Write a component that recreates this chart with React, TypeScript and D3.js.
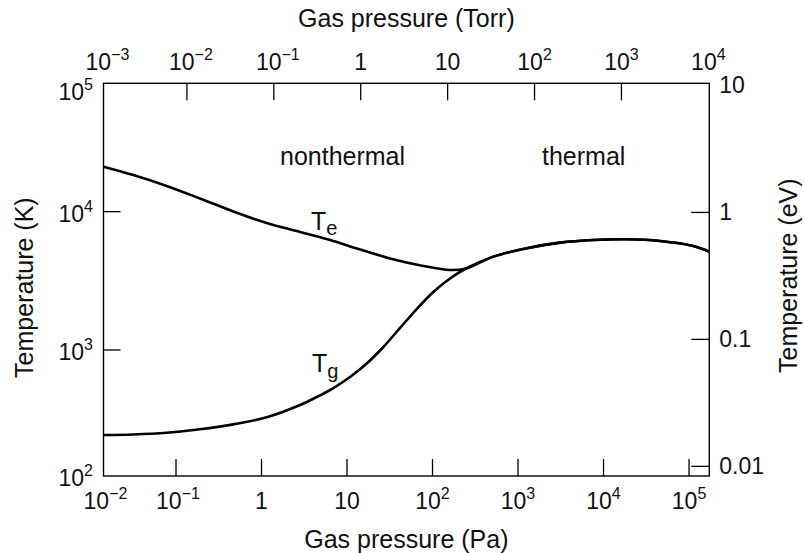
import React from "react";
import * as d3 from "d3";

// Te (electron temperature) in the nonthermal region, Pa / K
const tePressure = [0.0142, 0.0317, 0.0778, 0.191, 0.468, 1.15, 2.82, 6.92, 13.0, 31.8, 78.0, 160];
const teTemp = [21150, 18400, 15350, 12450, 10030, 8280, 7130, 6140, 5420, 4590, 4050, 3785];

// Tg (gas temperature) in the nonthermal region, Pa / K
const tgPressure = [0.0142, 0.0317, 0.0778, 0.191, 0.468, 1.15, 2.82, 4.42, 6.92, 10.84, 17.0, 26.6, 41.7, 65.3, 102.2, 160.2];
const tgTemp = [243, 245, 252, 267, 290, 326, 400, 457, 531, 638, 798, 1051, 1443, 1978, 2625, 3288];

// thermal region, Te = Tg
const thPressure = [246.5, 514, 1265, 3100, 7600, 18670, 45800, 112000, 172600];
const thTemp = [3883, 4730, 5440, 5970, 6240, 6310, 6140, 5650, 5140];

const paExponents = [-2, -1, 0, 1, 2, 3, 4, 5];
const torrExponents = [-3, -2, -1, 0, 1, 2, 3, 4];
const kExponents = [2, 3, 4, 5];
const evTicks = [10, 1, 0.1, 0.01];
const evLabels = ["10", "1", "0.1", "0.01"];

const W = 804;
const H = 553;
const margin = { top: 83.3, right: 94.7, bottom: 77, left: 103.5 };
const FONT = "'Liberation Sans', Arial, Helvetica, sans-serif";
const TICK = 17;

function Pow({ x, y, e, anchor }: { x: number; y: number; e: number; anchor: string }) {
  if (e === 0) return <text x={x} y={y} textAnchor={anchor} fontSize={23}>1</text>;
  if (e === 1) return <text x={x} y={y} textAnchor={anchor} fontSize={23}>10</text>;
  const sup = e < 0 ? "\u2212" + Math.abs(e) : String(e);
  return (
    <text x={x} y={y} textAnchor={anchor} fontSize={23}>
      10<tspan dy={-10} fontSize={16}>{sup}</tspan>
    </text>
  );
}

export default function App() {
  const L = margin.left;
  const R = W - margin.right;
  const T = margin.top;
  const B = H - margin.bottom;

  const xPa = d3.scaleLog().domain([10 ** -1.848, 10 ** 5.237]).range([L, R]).clamp(true);
  const xTorr = d3.scaleLog().domain([10 ** -2.96, 10 ** 4.011]).range([L, R]).clamp(true);
  const yK = d3.scaleLog().domain([10 ** 2.089, 10 ** 4.928]).range([B, T]).clamp(true);
  const yEV = d3.scaleLog().domain([10 ** -2.076, 10 ** 1.017]).range([B, T]).clamp(true);

  const line = d3
    .line<[number, number]>()
    .x((d) => xPa(d[0]))
    .y((d) => yK(d[1]))
    .curve(d3.curveCatmullRom.alpha(0.5));

  const th: [number, number][] = thPressure.map((p, i) => [p, thTemp[i]]);
  const te: [number, number][] = tePressure.map((p, i) => [p, teTemp[i]] as [number, number]).concat(th);
  const tg: [number, number][] = tgPressure.map((p, i) => [p, tgTemp[i]] as [number, number]).concat(th);

  const inner = (v: number, a: number, b: number) => v > a + 3 && v < b - 3;

  return (
    <svg width={W} height={H} style={{ position: "absolute", left: 0, top: 0, background: "#fff" }} fontFamily={FONT} fill="#111">
      {/* curves */}
      <path d={line(te) ?? ""} fill="none" stroke="#000" strokeWidth={2.6} />
      <path d={line(tg) ?? ""} fill="none" stroke="#000" strokeWidth={2.6} />

      {/* frame */}
      <rect x={L} y={T} width={R - L} height={B - T} fill="none" stroke="#000" strokeWidth={1.4} />

      {/* bottom axis, Pa */}
      {paExponents.map((e) => {
        const x = xPa(10 ** e);
        return (
          <g key={"pa" + e}>
            {inner(x, L, R) && <line x1={x} x2={x} y1={B} y2={B - TICK} stroke="#000" strokeWidth={1.3} />}
            <Pow x={x + (e < 0 ? 2 : 0)} y={B + 33} e={e} anchor="middle" />
          </g>
        );
      })}

      {/* top axis, Torr */}
      {torrExponents.map((e) => {
        const x = xTorr(10 ** e);
        return (
          <g key={"torr" + e}>
            {inner(x, L, R) && <line x1={x} x2={x} y1={T} y2={T + TICK} stroke="#000" strokeWidth={1.3} />}
            <Pow x={x + (e < 0 ? 4 : 0)} y={T - 13} e={e} anchor="middle" />
          </g>
        );
      })}

      {/* left axis, K */}
      {kExponents.map((e) => {
        const y = yK(10 ** e);
        return (
          <g key={"k" + e}>
            {inner(y, T, B) && <line x1={L} x2={L + TICK} y1={y} y2={y} stroke="#000" strokeWidth={1.3} />}
            <Pow x={93} y={y + (y <= T + 1 ? 17 : 10)} e={e} anchor="end" />
          </g>
        );
      })}

      {/* right axis, eV */}
      {evTicks.map((v, i) => {
        const y = yEV(v);
        return (
          <g key={"ev" + v}>
            {inner(y, T, B) && <line x1={R} x2={R - TICK - 1} y1={y} y2={y} stroke="#000" strokeWidth={1.3} />}
            <text x={R + 10} y={y + 8} fontSize={23}>{evLabels[i]}</text>
          </g>
        );
      })}

      {/* axis titles */}
      <text x={(L + R) / 2} y={27} textAnchor="middle" fontSize={25}>Gas pressure (Torr)</text>
      <text x={(L + R) / 2} y={548} textAnchor="middle" fontSize={25}>Gas pressure (Pa)</text>
      <text transform={`translate(33,${(T + B) / 2 + 8}) rotate(-90)`} textAnchor="middle" fontSize={25}>Temperature (K)</text>
      <text transform={`translate(797,${(T + B) / 2 - 4}) rotate(-90)`} textAnchor="middle" fontSize={25}>Temperature (eV)</text>

      {/* annotations */}
      <text x={280} y={165} fontSize={25}>nonthermal</text>
      <text x={542} y={165} fontSize={25}>thermal</text>
      <text x={311} y={230} fontSize={25}>
        T<tspan dy={5} fontSize={20}>e</tspan>
      </text>
      <text x={312} y={372} fontSize={25}>
        T<tspan dy={6} fontSize={20}>g</tspan>
      </text>
    </svg>
  );
}
